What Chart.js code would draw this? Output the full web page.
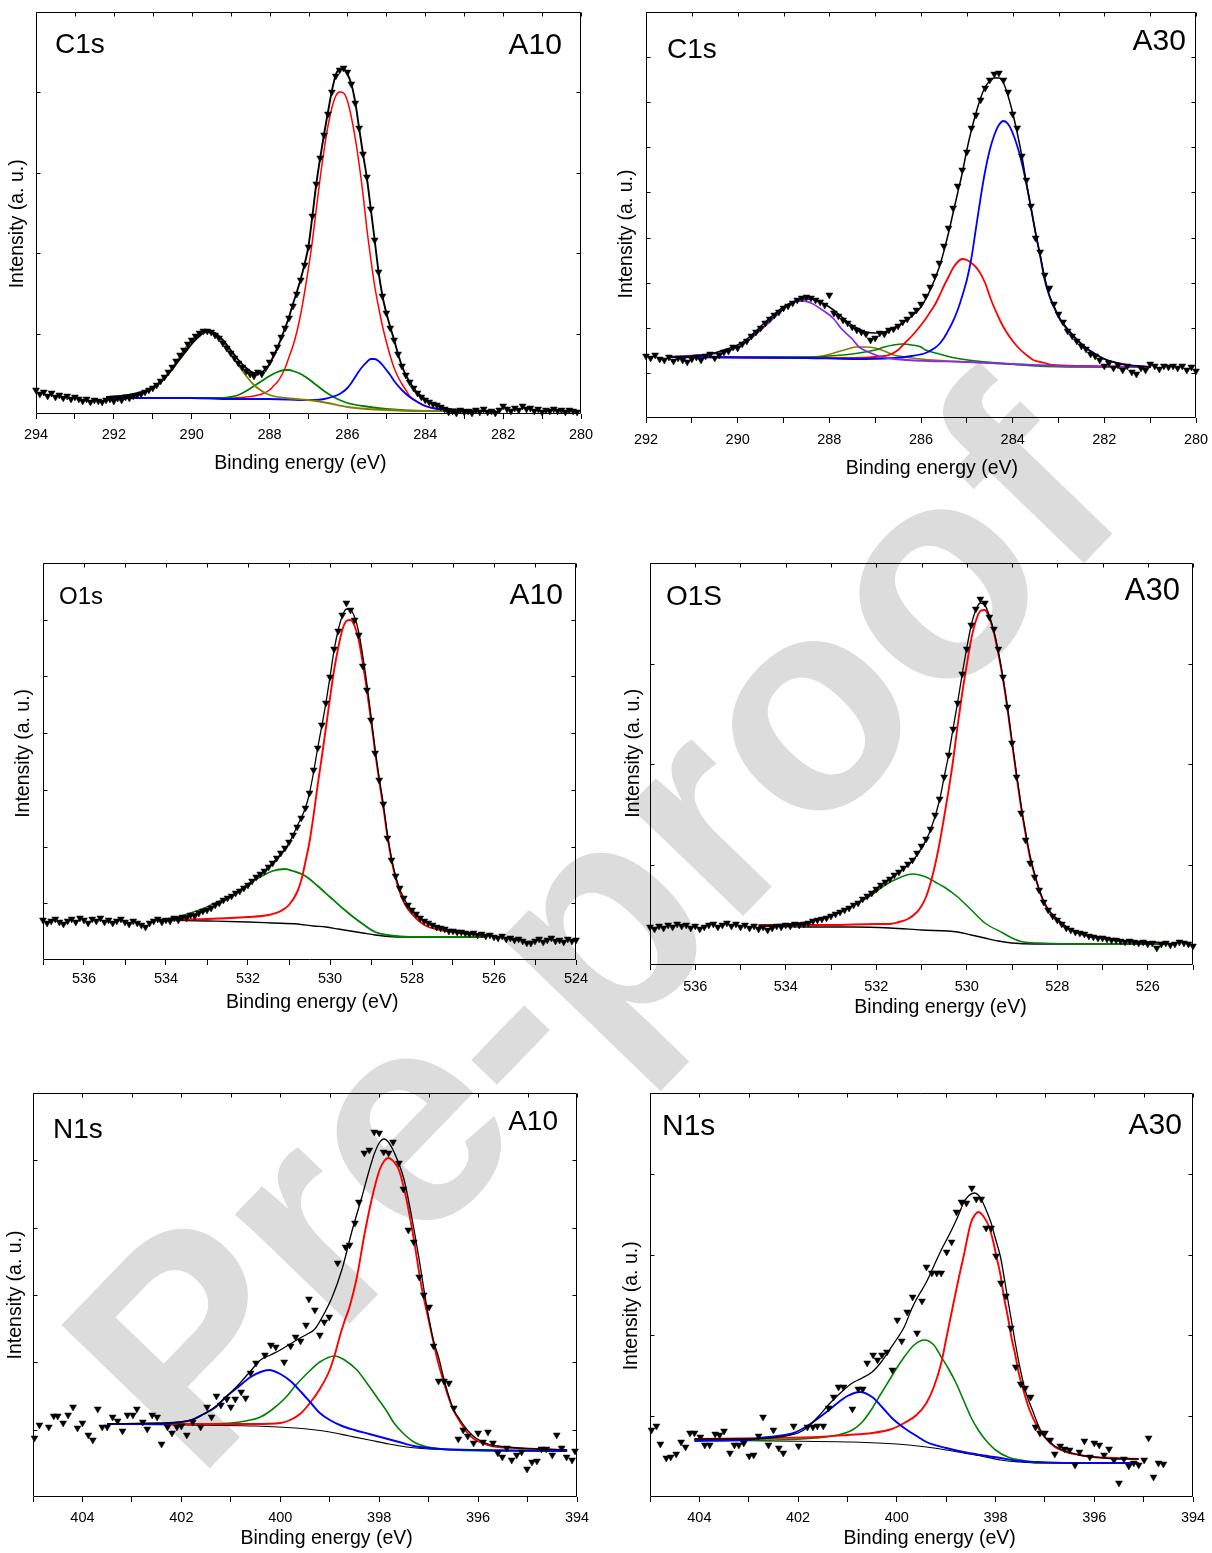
<!DOCTYPE html>
<html><head><meta charset="utf-8">
<script src="https://cdn.jsdelivr.net/npm/chart.js@4.4.1/dist/chart.umd.min.js"></script>
<style>
html,body{margin:0;padding:0;background:#fff;}
body{width:1212px;height:1553px;position:relative;overflow:hidden;font-family:"Liberation Sans",Arial,sans-serif;}
canvas{position:absolute;z-index:2;}
.lbl{position:absolute;z-index:3;line-height:1;color:#000;white-space:nowrap;}
#wm{position:absolute;z-index:1;left:590px;top:925px;transform:translate(-50%,-50%) rotate(-46deg);font-weight:bold;font-size:300px;line-height:1;color:#dcdcdc;white-space:nowrap;}
</style></head><body>
<div id="wm">Pre-proof</div>
<div class="lbl" style="left:55px;top:30px;font-size:28px">C1s</div>
<div class="lbl" style="right:650px;top:29px;font-size:30px">A10</div>
<div class="lbl" style="left:667px;top:35px;font-size:28px">C1s</div>
<div class="lbl" style="right:26px;top:25px;font-size:30px">A30</div>
<div class="lbl" style="left:59px;top:584px;font-size:24px">O1s</div>
<div class="lbl" style="right:649px;top:579px;font-size:30px">A10</div>
<div class="lbl" style="left:666px;top:582px;font-size:28px">O1S</div>
<div class="lbl" style="right:32px;top:574px;font-size:31px">A30</div>
<div class="lbl" style="left:53px;top:1115px;font-size:28px">N1s</div>
<div class="lbl" style="right:654px;top:1107px;font-size:28px">A10</div>
<div class="lbl" style="left:662px;top:1110px;font-size:30px">N1s</div>
<div class="lbl" style="right:30px;top:1109px;font-size:30px">A30</div>
<script>
// ===== DATA (binding energy eV, intensity a.u.) =====
const c1sA10_points=[[294.0,24],[293.9,20],[293.8,22],[293.7,18],[293.6,21],[293.5,17],[293.4,19],[293.3,16],[293.2,18],[293.1,15],[293.0,17],[292.9,15],[292.8,13],[292.7,15],[292.6,12],[292.5,14],[292.4,13],[292.3,12],[292.2,14],[292.1,15],[292.0,13],[291.9,16],[291.8,14],[291.7,17],[291.6,16],[291.5,18],[291.4,19],[291.3,20],[291.2,22],[291.1,24],[291.0,26],[290.9,29],[290.8,33],[290.7,37],[290.6,42],[290.5,47],[290.4,53],[290.3,59],[290.2,64],[290.1,70],[290.0,74],[289.9,78],[289.8,81],[289.7,83],[289.6,83],[289.5,82],[289.4,79],[289.3,76],[289.2,71],[289.1,66],[289.0,61],[288.9,56],[288.8,51],[288.7,47],[288.6,43],[288.5,40],[288.4,38],[288.3,42],[288.2,40],[288.1,46],[288.0,52],[287.9,60],[287.8,67],[287.7,77],[287.6,86],[287.5,96],[287.4,108],[287.3,120],[287.2,134],[287.1,149],[287.0,167],[286.9,198],[286.8,230],[286.7,256],[286.6,279],[286.5,300],[286.4,322],[286.3,338],[286.2,344],[286.1,346],[286.0,342],[285.9,330],[285.8,311],[285.7,286],[285.6,260],[285.5,237],[285.4,205],[285.3,174],[285.2,142],[285.1,118],[285.0,101],[284.9,86],[284.8,74],[284.7,60],[284.6,48],[284.5,39],[284.4,32],[284.3,26],[284.2,21],[284.1,17],[284.0,14],[283.9,12],[283.8,10],[283.7,9],[283.6,7],[283.5,5],[283.4,2],[283.3,3],[283.2,1],[283.1,4],[283.0,2],[282.9,3],[282.8,1],[282.7,4],[282.6,2],[282.5,5],[282.4,2],[282.3,3],[282.2,1],[282.1,4],[282.0,8],[281.9,5],[281.8,3],[281.7,6],[281.6,4],[281.5,8],[281.4,5],[281.3,6],[281.2,3],[281.1,5],[281.0,2],[280.9,4],[280.8,3],[280.7,5],[280.6,3],[280.5,4],[280.4,2],[280.3,4],[280.2,3],[280.1,2]];
const c1sA10_envelope=[[292.2,17],[291.8,18],[291.5,20],[291.2,23],[291.0,27],[290.8,32],[290.6,40],[290.4,50],[290.2,60],[290.0,70],[289.8,78],[289.6,83],[289.4,81],[289.2,74],[289.0,64],[288.8,54],[288.6,46],[288.4,41],[288.2,42],[288.0,50],[287.9,58],[287.8,66],[287.7,76],[287.6,86],[287.5,97],[287.4,110],[287.3,122],[287.2,135],[287.1,150],[287.0,168],[286.9,198],[286.8,230],[286.7,256],[286.6,280],[286.5,302],[286.4,323],[286.3,339],[286.2,345],[286.1,345],[286.0,340],[285.9,330],[285.8,312],[285.7,286],[285.6,260],[285.5,236],[285.4,205],[285.3,174],[285.2,142],[285.1,118],[285.0,101],[284.9,87],[284.8,74],[284.7,60],[284.6,48],[284.5,39],[284.4,32],[284.3,26],[284.2,21],[284.0,15],[283.8,10],[283.6,7],[283.4,5],[283.0,4],[282.6,3],[282.2,3]];
const c1sA10_red=[[292.2,16],[290.0,16],[289.0,16],[288.6,17],[288.4,18],[288.2,20],[288.0,24],[287.9,28],[287.8,32],[287.7,38],[287.6,46],[287.5,57],[287.4,68],[287.3,82],[287.2,100],[287.1,122],[287.0,146],[286.9,173],[286.8,205],[286.7,236],[286.6,264],[286.5,288],[286.4,306],[286.3,318],[286.2,322],[286.1,321],[286.0,313],[285.9,297],[285.8,276],[285.7,250],[285.6,220],[285.5,185],[285.4,155],[285.3,128],[285.2,107],[285.1,88],[285.0,72],[284.9,58],[284.8,46],[284.7,37],[284.6,30],[284.5,24],[284.4,18],[284.2,12],[284.0,8],[283.6,5],[283.0,4],[282.2,3]];
const c1sA10_green=[[292.2,16],[289.6,16],[289.2,16],[289.0,17],[288.8,19],[288.6,23],[288.4,28],[288.2,33],[288.0,38],[287.8,42],[287.6,44],[287.5,44],[287.4,43],[287.2,40],[287.0,35],[286.8,29],[286.6,23],[286.4,18],[286.2,14],[286.0,11],[285.6,8],[285.0,5],[284.0,3],[282.2,3]];
const c1sA10_blue=[[292.2,16],[290.0,16],[289.0,15],[288.0,15],[287.0,14],[286.8,14],[286.6,15],[286.4,17],[286.2,20],[286.0,26],[285.9,31],[285.8,37],[285.7,43],[285.6,48],[285.5,52],[285.4,55],[285.3,55],[285.2,53],[285.1,49],[285.0,44],[284.9,39],[284.8,33],[284.6,24],[284.4,17],[284.2,12],[284.0,8],[283.7,5],[283.0,3],[282.2,3]];
const c1sA10_olive=[[292.2,17],[291.6,19],[291.2,22],[291.0,26],[290.8,33],[290.6,41],[290.4,52],[290.2,64],[290.0,74],[289.8,80],[289.6,82],[289.4,80],[289.2,72],[289.0,61],[288.8,49],[288.6,38],[288.4,29],[288.2,23],[288.0,19],[287.6,16],[287.0,14],[286.5,11],[286.0,7],[285.5,5],[285.0,4],[284.0,3],[282.2,3]];

const c1sA30_points=[[292.0,62],[291.9,60],[291.8,63],[291.7,59],[291.6,58],[291.5,61],[291.4,57],[291.3,60],[291.2,58],[291.1,56],[291.0,59],[290.9,61],[290.8,58],[290.7,62],[290.6,64],[290.5,60],[290.4,63],[290.3,66],[290.2,67],[290.1,71],[290.0,70],[289.9,74],[289.8,77],[289.7,82],[289.6,86],[289.5,90],[289.4,95],[289.3,99],[289.2,103],[289.1,106],[289.0,110],[288.9,112],[288.8,115],[288.7,118],[288.6,120],[288.5,121],[288.4,120],[288.3,118],[288.2,116],[288.1,113],[288.0,123],[287.9,105],[287.8,102],[287.7,98],[287.6,95],[287.5,91],[287.4,88],[287.3,86],[287.2,84],[287.1,78],[287.0,80],[286.9,85],[286.8,84],[286.7,88],[286.6,89],[286.5,92],[286.4,96],[286.3,99],[286.2,104],[286.1,108],[286.0,114],[285.9,122],[285.8,131],[285.7,142],[285.6,155],[285.5,172],[285.4,190],[285.3,210],[285.2,232],[285.1,248],[285.0,266],[284.9,290],[284.8,303],[284.7,318],[284.6,330],[284.5,338],[284.4,344],[284.3,345],[284.2,338],[284.1,326],[284.0,304],[283.9,290],[283.8,262],[283.7,238],[283.6,212],[283.5,180],[283.4,166],[283.3,143],[283.2,130],[283.1,114],[283.0,104],[282.9,96],[282.8,87],[282.7,82],[282.6,77],[282.5,72],[282.4,69],[282.3,64],[282.2,62],[282.1,58],[282.0,52],[281.9,55],[281.8,50],[281.7,53],[281.6,48],[281.5,52],[281.4,46],[281.3,44],[281.2,50],[281.1,48],[281.0,54],[280.9,52],[280.8,49],[280.7,52],[280.6,51],[280.5,52],[280.4,50],[280.3,52],[280.2,48],[280.1,51],[280.0,47]];
const c1sA30_envelope=[[291.5,61],[291.0,62],[290.6,64],[290.3,68],[290.0,73],[289.8,79],[289.6,87],[289.4,96],[289.2,104],[289.0,111],[288.8,116],[288.6,119],[288.4,119],[288.2,116],[288.0,111],[287.8,104],[287.6,96],[287.4,90],[287.2,86],[287.0,85],[286.8,86],[286.6,90],[286.4,95],[286.2,102],[286.0,111],[285.8,128],[285.6,151],[285.5,167],[285.4,185],[285.3,205],[285.2,225],[285.1,245],[285.0,268],[284.9,288],[284.8,305],[284.7,320],[284.6,331],[284.5,337],[284.4,340],[284.3,340],[284.2,335],[284.1,322],[284.0,305],[283.9,285],[283.8,262],[283.7,235],[283.6,210],[283.5,185],[283.4,163],[283.3,140],[283.2,123],[283.1,112],[283.0,102],[282.8,89],[282.6,79],[282.4,70],[282.2,64],[282.0,59],[281.8,56],[281.5,53],[281.0,51]];
const c1sA30_red=[[291.5,61],[289.0,60],[287.5,60],[287.0,61],[286.8,62],[286.7,63],[286.5,68],[286.35,75],[286.2,82],[286.05,90],[285.9,99],[285.8,106],[285.7,113],[285.6,122],[285.5,132],[285.4,141],[285.3,150],[285.2,156],[285.1,159],[285.0,158],[284.9,155],[284.75,148],[284.6,135],[284.47,118],[284.3,100],[284.19,90],[284.0,77],[283.87,70],[283.7,63],[283.55,58],[283.3,55],[283.14,53],[282.5,52],[281.0,51]];
const c1sA30_blue=[[291.5,61],[288.5,60],[287.5,59],[286.6,60],[286.2,62],[285.9,65],[285.7,70],[285.6,74],[285.5,80],[285.4,88],[285.3,97],[285.2,108],[285.1,122],[285.0,138],[284.9,160],[284.8,190],[284.7,220],[284.6,247],[284.5,268],[284.4,283],[284.3,293],[284.2,297],[284.1,294],[284.0,285],[283.9,272],[283.8,255],[283.7,234],[283.6,210],[283.5,185],[283.4,162],[283.3,138],[283.2,122],[283.1,111],[283.0,101],[282.9,94],[282.8,88],[282.6,78],[282.4,70],[282.2,64],[282.0,59],[281.8,56],[281.5,53],[281.0,51]];
const c1sA30_green=[[291.5,61],[288.5,61],[288.0,62],[287.5,64],[287.0,68],[286.8,71],[286.6,73],[286.4,74],[286.2,73],[286.0,71],[285.9,68],[285.6,64],[285.25,60],[284.8,57],[284.3,55],[283.5,52],[282.5,51],[281.0,51]];
const c1sA30_olive=[[291.5,61],[289.0,61],[288.5,61],[288.15,62],[287.9,65],[287.6,69],[287.4,71],[287.2,71],[287.0,70],[286.8,67],[286.6,63],[286.35,61],[286.0,59],[285.0,56],[284.0,54],[283.0,52],[281.0,51]];
const c1sA30_violet=[[291.5,61],[290.8,63],[290.3,66],[290.0,71],[289.7,80],[289.4,92],[289.1,105],[288.9,113],[288.7,117],[288.55,117],[288.4,115],[288.15,108],[287.9,99],[287.75,90],[287.5,79],[287.35,71],[287.1,65],[286.85,61],[286.3,58],[285.0,56],[284.0,54],[283.0,52],[281.0,51]];

const o1sA10_points=[[537.0,40],[536.9,37],[536.8,39],[536.7,41],[536.6,38],[536.5,36],[536.4,39],[536.3,41],[536.2,38],[536.1,42],[536.0,40],[535.9,37],[535.8,41],[535.7,39],[535.6,42],[535.5,38],[535.4,40],[535.3,37],[535.2,39],[535.1,41],[535.0,38],[534.9,36],[534.8,39],[534.7,37],[534.6,35],[534.5,33],[534.4,37],[534.3,39],[534.2,41],[534.1,38],[534.0,40],[533.9,39],[533.8,42],[533.7,40],[533.6,43],[533.5,42],[533.4,45],[533.3,44],[533.2,47],[533.1,49],[533.0,50],[532.9,52],[532.8,55],[532.7,57],[532.6,60],[532.5,62],[532.4,64],[532.3,67],[532.2,69],[532.1,72],[532.0,75],[531.9,79],[531.8,83],[531.7,86],[531.6,89],[531.5,93],[531.4,97],[531.3,102],[531.2,107],[531.1,112],[531.0,118],[530.9,125],[530.8,133],[530.7,142],[530.6,152],[530.5,167],[530.4,190],[530.3,212],[530.2,235],[530.1,257],[530.0,283],[529.9,311],[529.8,329],[529.7,345],[529.6,357],[529.5,350],[529.4,340],[529.3,325],[529.2,294],[529.1,270],[529.0,240],[528.9,207],[528.8,180],[528.7,156],[528.6,122],[528.5,100],[528.4,84],[528.3,72],[528.2,62],[528.1,55],[528.0,50],[527.9,46],[527.8,42],[527.7,39],[527.6,37],[527.5,35],[527.4,33],[527.3,32],[527.2,31],[527.1,29],[527.0,29],[526.9,28],[526.8,28],[526.7,27],[526.6,26],[526.5,27],[526.4,25],[526.3,26],[526.2,24],[526.1,25],[526.0,23],[525.9,22],[525.8,24],[525.7,21],[525.6,22],[525.5,20],[525.4,21],[525.3,19],[525.2,17],[525.1,17],[525.0,19],[524.9,21],[524.8,18],[524.7,20],[524.6,22],[524.5,19],[524.4,20],[524.3,18],[524.2,21],[524.1,19],[524.0,20]];
const o1sA10_envelope=[[534.2,40],[533.8,42],[533.4,45],[533.0,50],[532.6,59],[532.2,69],[531.8,82],[531.4,97],[531.0,117],[530.8,134],[530.6,152],[530.5,167],[530.4,188],[530.3,212],[530.2,234],[530.1,257],[530.0,283],[529.9,310],[529.8,330],[529.7,344],[529.6,351],[529.5,350],[529.4,343],[529.3,328],[529.2,304],[529.1,276],[529.0,244],[528.9,211],[528.8,182],[528.7,156],[528.6,126],[528.5,102],[528.4,84],[528.3,71],[528.2,62],[528.1,55],[528.0,50],[527.8,42],[527.6,37],[527.3,32],[527.0,29],[526.6,27],[526.2,25]];
const o1sA10_red=[[534.2,40],[533.0,41],[532.0,43],[531.5,45],[531.2,49],[531.0,55],[530.8,68],[530.7,80],[530.6,98],[530.5,118],[530.4,145],[530.3,175],[530.2,203],[530.1,232],[530.0,262],[529.9,290],[529.8,312],[529.7,330],[529.6,339],[529.5,340],[529.4,334],[529.3,320],[529.2,297],[529.1,270],[529.0,240],[528.9,208],[528.8,179],[528.7,153],[528.6,124],[528.5,100],[528.4,82],[528.3,68],[528.2,58],[528.1,51],[528.0,46],[527.8,38],[527.6,33],[527.3,30],[527.0,28],[526.6,26],[526.2,25]];
const o1sA10_green=[[534.2,40],[533.8,42],[533.4,47],[533.0,53],[532.8,57],[532.4,64],[532.2,70],[532.0,76],[531.7,83],[531.4,89],[531.1,91],[530.9,89],[530.6,84],[530.3,74],[530.0,63],[529.7,52],[529.4,42],[529.2,36],[528.9,28],[528.6,25],[528.4,24],[528.0,23],[527.0,23],[526.2,23]];
const o1sA10_background=[[534.2,40],[533.0,39],[532.0,38],[531.4,37],[530.8,36],[530.4,34],[530.1,33],[529.8,31],[529.5,29],[529.2,27],[528.9,25],[528.7,24],[528.3,23],[527.0,23],[526.2,23]];

const o1sA30_points=[[537.0,38],[536.9,36],[536.8,39],[536.7,37],[536.6,40],[536.5,38],[536.4,41],[536.3,39],[536.2,40],[536.1,37],[536.0,39],[535.9,36],[535.8,38],[535.7,40],[535.6,41],[535.5,38],[535.4,40],[535.3,42],[535.2,39],[535.1,41],[535.0,38],[534.9,40],[534.8,37],[534.7,39],[534.6,36],[534.5,38],[534.4,35],[534.3,37],[534.2,39],[534.1,38],[534.0,40],[533.9,39],[533.8,41],[533.7,40],[533.6,41],[533.5,42],[533.4,44],[533.3,45],[533.2,46],[533.1,47],[533.0,49],[532.9,51],[532.8,53],[532.7,55],[532.6,57],[532.5,60],[532.4,62],[532.3,66],[532.2,69],[532.1,72],[532.0,76],[531.9,80],[531.8,83],[531.7,86],[531.6,90],[531.5,93],[531.4,97],[531.3,101],[531.2,105],[531.1,112],[531.0,119],[530.9,126],[530.8,136],[530.7,150],[530.6,166],[530.5,188],[530.4,210],[530.3,236],[530.2,262],[530.1,291],[530.0,316],[529.9,340],[529.8,356],[529.7,366],[529.6,362],[529.5,348],[529.4,336],[529.3,316],[529.2,288],[529.1,258],[529.0,222],[528.9,188],[528.8,152],[528.7,125],[528.6,102],[528.5,88],[528.4,75],[528.3,63],[528.2,55],[528.1,49],[528.0,45],[527.9,41],[527.8,37],[527.7,35],[527.6,33],[527.5,32],[527.4,31],[527.3,29],[527.2,28],[527.1,27],[527.0,27],[526.9,26],[526.8,25],[526.7,25],[526.6,24],[526.5,23],[526.4,24],[526.3,23],[526.2,22],[526.1,23],[526.0,21],[525.9,22],[525.8,17],[525.7,21],[525.6,22],[525.5,20],[525.4,21],[525.3,23],[525.2,22],[525.1,21],[525.0,19]];
const o1sA30_envelope=[[534.6,39],[534.0,41],[533.5,43],[533.0,49],[532.6,57],[532.2,69],[531.9,80],[531.5,93],[531.2,104],[531.0,117],[530.8,135],[530.6,165],[530.5,188],[530.4,210],[530.3,237],[530.2,263],[530.1,291],[530.0,317],[529.9,340],[529.8,355],[529.7,362],[529.6,360],[529.5,349],[529.4,334],[529.3,313],[529.2,288],[529.1,258],[529.0,224],[528.9,191],[528.8,160],[528.7,133],[528.6,109],[528.5,91],[528.4,76],[528.3,64],[528.2,56],[528.1,50],[528.0,46],[527.8,38],[527.6,33],[527.4,30],[527.0,27],[526.5,24],[526.0,23],[525.6,22]];
const o1sA30_red=[[534.6,40],[533.0,40],[532.0,41],[531.7,41],[531.5,43],[531.3,46],[531.1,53],[531.0,59],[530.9,68],[530.8,82],[530.7,100],[530.6,122],[530.5,148],[530.4,175],[530.3,205],[530.2,240],[530.1,272],[530.0,300],[529.9,326],[529.8,344],[529.7,354],[529.6,355],[529.5,347],[529.4,332],[529.3,311],[529.2,286],[529.1,256],[529.0,222],[528.9,189],[528.8,158],[528.7,131],[528.6,107],[528.5,90],[528.4,75],[528.3,63],[528.2,55],[528.1,50],[528.0,46],[527.8,38],[527.6,33],[527.4,30],[527.0,27],[526.5,24],[526.0,23],[525.6,22]];
const o1sA30_green=[[534.6,39],[534.0,40],[533.6,42],[533.2,47],[532.8,53],[532.5,60],[532.1,70],[531.8,80],[531.5,87],[531.2,91],[530.9,88],[530.7,83],[530.5,78],[530.2,68],[529.9,55],[529.6,42],[529.2,32],[529.0,27],[528.75,23],[528.4,22],[527.5,21],[525.6,21]];
const o1sA30_background=[[534.6,39],[533.5,38],[532.5,38],[531.7,37],[531.0,35],[530.2,33],[529.9,30],[529.6,27],[529.3,24],[529.0,22],[528.5,21],[525.6,21]];

const n1sA10_points=[[404.97,59],[404.87,72],[404.68,70],[404.58,81],[404.50,81],[404.39,74],[404.29,82],[404.19,90],[404.10,69],[404.0,74],[403.88,62],[403.79,57],[403.69,88],[403.60,70],[403.50,70],[403.39,80],[403.29,76],[403.19,66],[403.09,82],[402.98,82],[402.90,88],[402.78,75],[402.69,68],[402.59,82],[402.49,80],[402.40,53],[402.28,70],[402.19,64],[402.09,70],[402.0,71],[401.89,62],[401.77,75],[401.61,70],[401.48,90],[401.39,80],[401.29,101],[401.20,92],[401.08,98],[401.0,90],[400.91,98],[400.79,105],[400.70,99],[400.60,124],[400.49,134],[400.31,142],[400.19,152],[400.09,150],[399.92,135],[399.79,151],[399.69,160],[399.59,156],[399.48,172],[399.42,198],[399.30,187],[399.20,162],[399.11,175],[399.01,180],[398.84,234],[398.68,250],[398.60,252],[398.49,274],[398.41,295],[398.30,344],[398.20,347],[398.10,365],[398.00,364],[397.91,345],[397.81,344],[397.72,355],[397.60,334],[397.51,308],[397.41,267],[397.30,255],[397.19,220],[397.10,202],[396.99,190],[396.90,151],[396.80,116],[396.69,116],[396.59,114],[396.49,89],[396.40,58],[396.30,67],[396.21,61],[396.09,54],[396.0,64],[395.90,55],[395.80,65],[395.70,54],[395.60,44],[395.51,40],[395.42,49],[395.32,37],[395.22,42],[395.12,45],[395.01,28],[394.91,35],[394.81,36],[394.72,48],[394.62,48],[394.50,42],[394.41,62],[394.31,49],[394.21,40],[394.10,37],[394.04,46]];
const n1sA10_envelope=[[403.5,73],[402.5,74],[402.0,75],[401.8,77],[401.5,84],[401.3,91],[401.1,100],[400.85,112],[400.6,126],[400.4,137],[400.2,142],[400.0,147],[399.8,153],[399.6,159],[399.45,163],[399.3,168],[399.15,180],[398.95,200],[398.75,228],[398.55,266],[398.35,300],[398.2,327],[398.1,343],[398.0,354],[397.9,358],[397.8,354],[397.7,345],[397.5,318],[397.35,282],[397.2,240],[397.05,194],[396.9,156],[396.8,140],[396.7,120],[396.6,102],[396.5,88],[396.35,76],[396.2,66],[396.05,59],[395.8,53],[395.6,51],[395.2,49],[394.8,48],[394.2,47]];
const n1sA10_red=[[403.5,73],[401.0,73],[400.5,73],[400.0,74],[399.8,77],[399.6,83],[399.4,94],[399.2,108],[399.0,127],[398.9,142],[398.8,160],[398.7,176],[398.6,190],[398.45,220],[398.3,262],[398.15,298],[398.0,326],[397.9,336],[397.82,339],[397.7,335],[397.6,327],[397.45,298],[397.3,258],[397.15,212],[397.0,177],[396.82,137],[396.7,116],[396.6,100],[396.5,87],[396.35,74],[396.2,63],[396.05,57],[395.8,52],[395.6,50],[395.2,49],[394.8,48],[394.2,47]];
const n1sA10_green=[[403.5,73],[402.0,73],[401.0,74],[400.7,76],[400.4,80],[400.15,88],[399.9,99],[399.7,111],[399.45,124],[399.2,135],[398.9,141],[398.7,137],[398.45,127],[398.25,114],[398.05,100],[397.85,86],[397.7,74],[397.5,63],[397.3,55],[397.1,51],[396.9,49],[396.5,47],[395.5,46],[394.2,46]];
const n1sA10_blue=[[403.5,73],[402.4,73],[402.0,75],[401.8,77],[401.55,83],[401.3,90],[401.1,100],[400.85,110],[400.6,120],[400.4,125],[400.23,127],[400.0,123],[399.77,115],[399.58,105],[399.38,94],[399.2,84],[399.0,77],[398.75,71],[398.5,67],[398.2,63],[397.9,59],[397.6,55],[397.3,51],[397.0,49],[396.75,48],[396.0,47],[394.2,46]];
const n1sA10_background=[[403.5,73],[402.0,72],[400.5,71],[399.7,69],[399.0,65],[398.6,61],[398.2,57],[397.8,53],[397.45,50],[397.0,48],[396.5,47],[394.2,46]];

const n1sA30_points=[[404.97,67],[404.87,71],[404.79,53],[404.67,39],[404.58,40],[404.47,43],[404.37,55],[404.28,50],[404.19,64],[404.10,64],[403.98,60],[403.89,52],[403.79,52],[403.68,63],[403.59,62],[403.50,66],[403.38,44],[403.29,52],[403.20,52],[403.10,54],[402.99,41],[402.90,42],[402.80,61],[402.71,80],[402.60,52],[402.50,67],[402.39,49],[402.30,44],[402.09,71],[401.99,51],[401.81,70],[401.70,70],[401.61,71],[401.49,71],[401.38,89],[401.28,100],[401.18,110],[401.08,110],[400.90,88],[400.78,108],[400.69,108],[400.60,134],[400.48,142],[400.39,137],[400.30,142],[400.20,145],[400.09,127],[399.99,177],[399.90,156],[399.79,185],[399.68,200],[399.59,164],[399.49,196],[399.40,230],[399.29,224],[399.19,224],[399.10,224],[398.99,245],[398.89,255],[398.79,285],[398.69,295],[398.59,294],[398.48,309],[398.39,298],[398.29,298],[398.19,269],[398.09,269],[397.99,241],[397.89,214],[397.79,201],[397.69,169],[397.59,130],[397.49,113],[397.40,109],[397.29,100],[397.19,70],[397.10,64],[397.00,64],[396.89,57],[396.80,43],[396.69,51],[396.60,48],[396.50,47],[396.39,32],[396.30,45],[396.20,56],[396.09,40],[396.00,54],[395.90,52],[395.80,42],[395.70,48],[395.60,37],[395.50,14],[395.40,38],[395.30,31],[395.20,34],[395.10,32],[394.99,37],[394.90,59],[394.80,20],[394.70,34],[394.60,33]];
const n1sA30_envelope=[[404.1,58],[403.0,58],[402.4,60],[402.0,64],[401.8,70],[401.6,80],[401.35,94],[401.1,106],[400.9,114],[400.7,119],[400.5,125],[400.3,136],[400.15,147],[400.0,158],[399.85,170],[399.7,188],[399.6,198],[399.4,215],[399.25,231],[399.1,247],[398.9,266],[398.75,282],[398.65,294],[398.55,301],[398.43,304],[398.35,302],[398.28,297],[398.2,288],[398.09,274],[398.0,258],[397.9,240],[397.8,212],[397.75,197],[397.6,154],[397.5,128],[397.4,107],[397.23,84],[397.1,68],[397.0,60],[396.8,51],[396.6,46],[396.3,42],[396.0,40],[395.5,38],[395.1,38]];
const n1sA30_red=[[404.1,58],[402.5,59],[401.6,60],[401.0,62],[400.5,64],[400.1,68],[399.85,74],[399.6,82],[399.4,94],[399.25,110],[399.1,134],[399.0,158],[398.88,187],[398.75,218],[398.65,240],[398.5,274],[398.42,282],[398.35,285],[398.25,281],[398.13,270],[398.05,256],[397.98,240],[397.9,222],[397.83,200],[397.75,180],[397.68,160],[397.6,142],[397.53,124],[397.42,104],[397.31,87],[397.15,70],[397.01,60],[396.8,50],[396.56,45],[396.3,42],[396.03,40],[395.6,39],[395.1,38]];
const n1sA30_green=[[404.1,57],[402.5,57],[401.64,59],[401.2,62],[400.9,67],[400.7,75],[400.52,87],[400.35,101],[400.15,117],[400.0,129],[399.85,140],[399.65,152],[399.44,157],[399.25,152],[399.1,140],[398.95,128],[398.8,114],[398.65,97],[398.5,80],[398.35,67],[398.2,57],[398.0,47],[397.75,40],[397.4,36],[397.1,34],[395.1,34]];
const n1sA30_blue=[[404.1,56],[403.0,57],[402.77,59],[402.4,61],[402.09,64],[401.85,70],[401.64,77],[401.4,86],[401.2,94],[401.0,101],[400.75,105],[400.5,100],[400.3,90],[400.1,79],[399.85,69],[399.6,61],[399.4,55],[399.0,49],[398.65,45],[398.3,42],[397.9,39],[397.5,36],[397.16,35],[396.5,34],[395.1,34]];
const n1sA30_background=[[404.1,57],[402.5,56],[400.9,55],[400.0,53],[399.4,50],[399.0,47],[398.65,44],[398.3,41],[397.9,37],[397.5,35],[397.16,34],[395.1,34]];

// x-axis ranges (eV) and number of y divisions
const xRanges=[[280,294],[280,292],[524,537],[525,537],[394,405],[394,405]];
const yDivisions=[5,9,7,4,6,5];
const xTitle='Binding energy (eV)';
const yTitle='Intensity (a. u.)';

// ===== RENDERING =====
const FONT="'Liberation Sans', Arial, sans-serif";
Chart.defaults.font.family=FONT;
Chart.defaults.color='#000';
const COLORS={black:'#000000',red:'#ff0000',green:'#008000',blue:'#0000ff',olive:'#808000',violet:'#8a2be2'};

const framePlugin={
  id:'frame',
  afterDatasetsDraw(chart,args,opts){
    const {ctx,chartArea:a,scales:{x,y}}=chart;
    ctx.save();
    ctx.strokeStyle='#000';ctx.lineWidth=1;
    const L=Math.round(a.left)+0.5,R=Math.round(a.right)-0.5,T=Math.round(a.top)+0.5,B=Math.round(a.bottom)-0.5;
    ctx.beginPath();
    ctx.rect(L,T,R-L,B-T);
    x.ticks.forEach(t=>{const px=Math.round(x.getPixelForValue(t.value))+0.5;ctx.moveTo(px,T);ctx.lineTo(px,T+4);});
    for(let k=1;k<opts.yDiv;k++){
      const py=Math.round(y.getPixelForValue(y.max*k/opts.yDiv))+0.5;
      ctx.moveTo(L,py);ctx.lineTo(L+4,py);
      ctx.moveTo(R,py);ctx.lineTo(R-4,py);
    }
    ctx.stroke();ctx.restore();
  }
};

const toXY=arr=>arr.map(p=>({x:p[0],y:p[1]}));
const pad=(n)=>' '.repeat(n);

// xShift: +n leading spaces / -n trailing spaces ; yShift: +n trailing (moves down) / -n leading (moves up)
const panels=[
 {box:[36,12,581,414],yTitleX:18,xTitleY:463,tickPad:7,xs:-3,ys:4,points:c1sA10_points,
  lines:[[c1sA10_envelope,'black',1.9],[c1sA10_olive,'olive',1.8],[c1sA10_blue,'blue',1.8],[c1sA10_green,'green',1.8],[c1sA10_red,'red',1.5]]},
 {box:[646,12,1196,418],yTitleX:627,xTitleY:468,tickPad:8,xs:4,ys:7,points:c1sA30_points,
  lines:[[c1sA30_envelope,'black',1.5],[c1sA30_violet,'violet',1.8],[c1sA30_blue,'blue',1.8],[c1sA30_red,'red',1.8],[c1sA30_green,'green',1.6],[c1sA30_olive,'olive',1.6]]},
 {box:[43,563,576,960],yTitleX:24,xTitleY:1002,tickPad:5,xs:1,ys:-3,points:o1sA10_points,
  lines:[[o1sA10_envelope,'black',1.3],[o1sA10_red,'red',1.9],[o1sA10_green,'green',1.8],[o1sA10_background,'black',1.3]]},
 {box:[650,563,1193,965],yTitleX:634,xTitleY:1007,tickPad:8,xs:7,ys:-4,points:o1sA30_points,
  lines:[[o1sA30_envelope,'black',1.3],[o1sA30_red,'red',1.9],[o1sA30_green,'green',1.5],[o1sA30_background,'black',1.3]]},
 {box:[33,1093,577,1497],yTitleX:16,xTitleY:1538,tickPad:7,xs:8,ys:0,points:n1sA10_points,
  lines:[[n1sA10_envelope,'black',1.3],[n1sA10_blue,'blue',1.9],[n1sA10_red,'red',1.9],[n1sA10_green,'green',1.6],[n1sA10_background,'black',1.2]]},
 {box:[650,1093,1193,1497],yTitleX:632,xTitleY:1538,tickPad:7,xs:3,ys:4,points:n1sA30_points,
  lines:[[n1sA30_envelope,'black',1.3],[n1sA30_blue,'blue',1.9],[n1sA30_red,'red',1.9],[n1sA30_green,'green',1.6],[n1sA30_background,'black',1.2]]}
];

panels.forEach((p,i)=>{
  const [L,T,R,B]=p.box;
  const [xMin,xMax]=xRanges[i];
  const yDiv=yDivisions[i];
  const cl=p.yTitleX-12, ct=T-10;
  const W=R+14-cl, H=p.xTitleY+12-ct;
  const cv=document.createElement('canvas');
  cv.width=W;cv.height=H;
  cv.style.left=cl+'px';cv.style.top=ct+'px';cv.style.width=W+'px';cv.style.height=H+'px';
  document.body.appendChild(cv);
  const yW=L-cl, xH=H-(B-ct);
  const xt=p.xs>=0?pad(p.xs)+xTitle:xTitle+pad(-p.xs);
  const yt=p.ys>=0?yTitle+pad(p.ys):pad(-p.ys)+yTitle;
  const datasets=[{type:'scatter',data:toXY(p.points),pointStyle:'triangle',pointRotation:180,pointRadius:4,
    pointBackgroundColor:'#000',pointBorderColor:'#000',pointBorderWidth:0.5,showLine:false,clip:false}];
  p.lines.forEach(([arr,color,w])=>datasets.push({type:'line',data:toXY(arr),borderColor:COLORS[color],borderWidth:w,
    pointRadius:0,fill:false,cubicInterpolationMode:'monotone'}));
  new Chart(cv,{
    type:'scatter',
    data:{datasets},
    options:{
      responsive:false,animation:false,devicePixelRatio:1,events:[],
      layout:{padding:{left:0,top:10,right:14,bottom:0}},
      plugins:{legend:{display:false},tooltip:{enabled:false},frame:{yDiv}},
      scales:{
        x:{type:'linear',reverse:true,min:xMin,max:xMax,
          afterBuildTicks:(s)=>{const t=[];for(let v=xMin;v<=xMax;v++)t.push({value:v});s.ticks=t;},
          ticks:{autoSkip:false,maxRotation:0,minRotation:0,padding:p.tickPad,color:'#000',font:{size:14.5,family:FONT},
            callback:(v)=>(Math.round(v)%2===0?String(Math.round(v)):'')},
          grid:{display:true,drawOnChartArea:false,drawTicks:true,tickLength:5,color:'#000',lineWidth:1},
          border:{display:false},
          title:{display:true,text:xt,color:'#000',font:{size:19.5,family:FONT},padding:0},
          afterFit:(s)=>{s.height=xH;}
        },
        y:{type:'linear',min:0,max:B-T,
          ticks:{display:false},grid:{display:false,drawTicks:false},border:{display:false},
          title:{display:true,text:yt,color:'#000',font:{size:19.5,family:FONT},padding:0},
          afterFit:(s)=>{s.width=yW;}
        }
      }
    },
    plugins:[framePlugin]
  });
});
</script>
</body></html>
